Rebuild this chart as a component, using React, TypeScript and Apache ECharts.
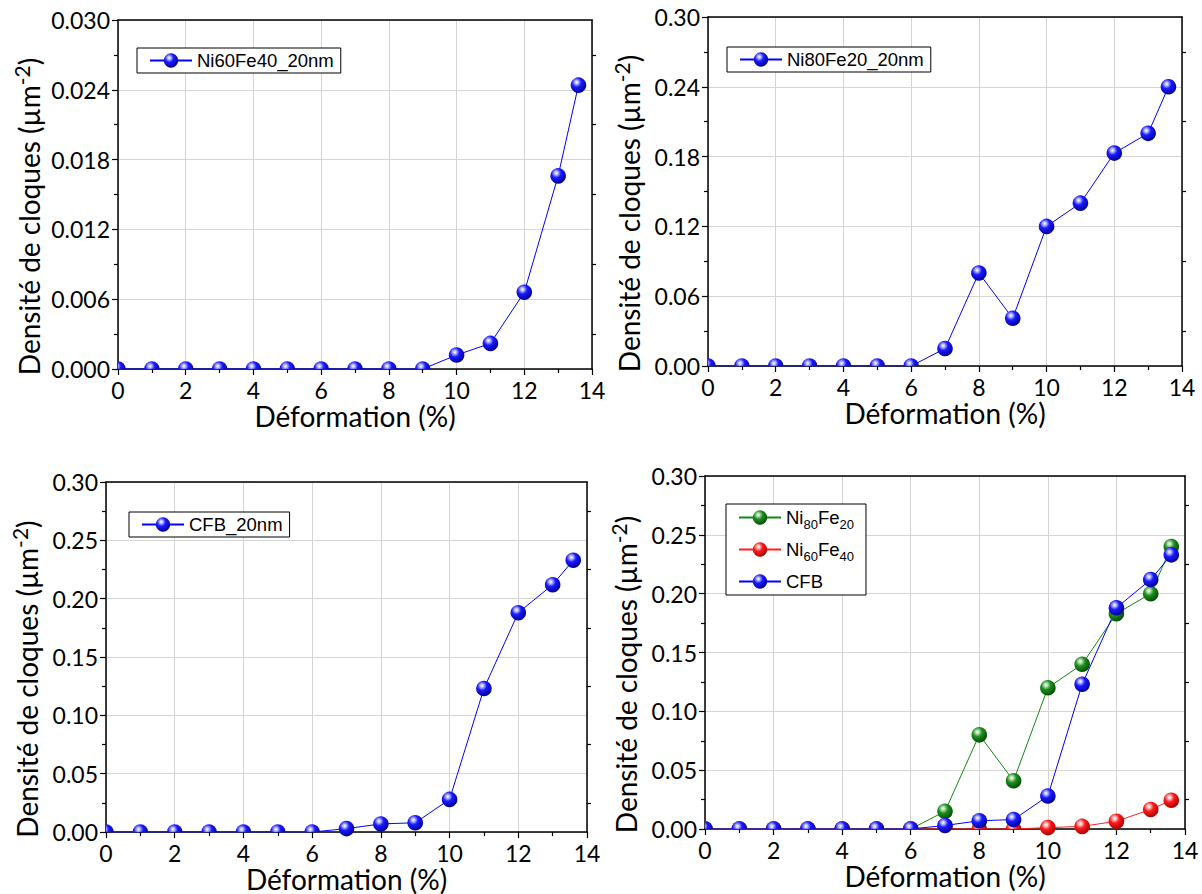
import React, { useEffect, useRef } from "react";
import * as echarts from "echarts";

// ---- data ----
const strain = [0, 1, 2, 3, 4, 5, 6, 7, 8, 9, 10, 11, 12, 13, 13.6];
const ni60fe40 = [0, 0, 0, 0, 0, 0, 0, 0, 0, 0, 0.0012, 0.0022, 0.0066, 0.0166, 0.0244];
const ni80fe20 = [0, 0, 0, 0, 0, 0, 0, 0.015, 0.08, 0.041, 0.12, 0.14, 0.183, 0.2, 0.24];
const cfb = [0, 0, 0, 0, 0, 0, 0, 0.003, 0.007, 0.008, 0.028, 0.123, 0.188, 0.212, 0.233];

const xTicksMax = 14;
const yMaxTop = [0.03, 0.3, 0.3, 0.3];
const yInterval = [0.006, 0.06, 0.05, 0.05];
const yDecimals = [3, 2, 2, 2];

const legendNames1 = ["Ni60Fe40_20nm"];
const legendNames2 = ["Ni80Fe20_20nm"];
const legendNames3 = ["CFB_20nm"];
const legendNames4 = ["Ni80Fe20", "Ni60Fe40", "CFB"];

const BLUE = { line: "#0000ff", hi: "#c8c8ff", mid: "#1a1aff", edge: "#00008c" };
const GREEN = { line: "#118811", hi: "#c0e8c0", mid: "#1f8f1f", edge: "#004800" };
const RED = { line: "#ff2020", hi: "#ffd0d0", mid: "#ff1a1a", edge: "#a00000" };

function stops(c: any) {
  return [
    { offset: 0, color: "#ffffff" },
    { offset: 0.13, color: c.hi },
    { offset: 0.42, color: c.mid },
    { offset: 1, color: c.edge },
  ];
}
function sphere(c: any) {
  return { type: "radial", x: 0.38, y: 0.32, r: 0.72, colorStops: stops(c) };
}

const grids = [
  { left: 118, top: 20, width: 474, height: 349 },
  { left: 708, top: 17, width: 474, height: 349 },
  { left: 106, top: 482, width: 481, height: 353 },
  { left: 705, top: 476, width: 480, height: 353 },
];
const yNameGap = [71, 61, 61, 61];
const R = 7.8;

export default function App() {
  const ref = useRef<HTMLDivElement>(null);
  useEffect(() => {
    const chart = echarts.init(ref.current!, null, { renderer: "svg" });
    const font = "Lato";
    const xAxis: any[] = [];
    const yAxis: any[] = [];
    grids.forEach((g, i) => {
      xAxis.push({
        type: "value",
        gridIndex: i,
        min: 0,
        max: xTicksMax,
        interval: 2,
        position: "bottom",
        name: "Déformation (%)",
        nameLocation: "middle",
        nameGap: 33,
        nameTextStyle: { fontFamily: font, fontSize: 28, lineHeight: 26, color: "#000" },
        axisLine: { show: true, onZero: false, lineStyle: { color: "#000", width: 1.5 } },
        axisTick: { show: true, inside: false, length: 6, lineStyle: { color: "#000", width: 1.2 } },
        minorTick: { show: true, splitNumber: 2, length: 4, lineStyle: { color: "#000", width: 1.2 } },
        splitLine: { show: true, lineStyle: { color: "#d4d4d4", width: 1 } },
        axisLabel: { fontFamily: font, fontSize: 23, lineHeight: 21, color: "#000", margin: 10 },
      });
      xAxis.push({
        type: "value",
        gridIndex: i,
        min: 0,
        max: xTicksMax,
        interval: 2,
        position: "top",
        axisLine: { show: true, onZero: false, lineStyle: { color: "#000", width: 1.5 } },
        axisTick: { show: false },
        axisLabel: { show: false },
        splitLine: { show: false },
      });
      yAxis.push({
        type: "value",
        gridIndex: i,
        min: 0,
        max: yMaxTop[i],
        interval: yInterval[i],
        position: "left",
        name: "Densité de cloques (µm{sup|-2})",
        nameLocation: "middle",
        nameRotate: 90,
        nameGap: yNameGap[i],
        nameTextStyle: {
          fontFamily: font,
          fontSize: 28,
          color: "#000",
          padding: [0, 44, 0, 0],
          rich: { sup: { fontFamily: font, fontSize: 21, color: "#000", padding: [0, 0, 15, 0] } },
        },
        axisLine: { show: true, onZero: false, lineStyle: { color: "#000", width: 1.5 } },
        axisTick: { show: true, inside: false, length: 6, lineStyle: { color: "#000", width: 1.2 } },
        minorTick: { show: true, splitNumber: 2, length: 4, lineStyle: { color: "#000", width: 1.2 } },
        splitLine: { show: true, lineStyle: { color: "#d4d4d4", width: 1 } },
        axisLabel: {
          fontFamily: font,
          fontSize: 23,
          color: "#000",
          margin: 8,
          formatter: (v: number) => v.toFixed(yDecimals[i]),
        },
      });
      yAxis.push({
        type: "value",
        gridIndex: i,
        min: 0,
        max: yMaxTop[i],
        interval: yInterval[i],
        position: "right",
        axisLine: { show: true, onZero: false, lineStyle: { color: "#000", width: 1.5 } },
        axisTick: { show: false },
        minorTick: { show: true, splitNumber: 2, length: 4, lineStyle: { color: "#000", width: 1.2 } },
        axisLabel: { show: false },
        splitLine: { show: false },
      });
    });

    const series: any[] = [];
    const addSeries = (gi: number, name: string, ys: number[], c: any, key: string) => {
      const data = strain.map((x, j) => [x, ys[j]]);
      series.push({
        type: "line",
        name,
        xAxisIndex: gi * 2,
        yAxisIndex: gi * 2,
        data,
        symbol: "circle",
        showSymbol: false,
        clip: true,
        z: 2,
        lineStyle: { color: c.line, width: 1 },
        itemStyle: { color: sphere(c) },
        silent: true,
      });
      series.push({
        type: "custom",
        name: "markers_" + key,
        xAxisIndex: gi * 2,
        yAxisIndex: gi * 2,
        coordinateSystem: "cartesian2d",
        z: 3,
        silent: true,
        data,
        renderItem: (params: any, api: any) => {
          const p = api.coord([api.value(0), api.value(1)]);
          const cs = params.coordSys;
          const cx = p[0];
          const cy = p[1];
          const fill = new echarts.graphic.RadialGradient(
            cx - 0.24 * R,
            cy - 0.36 * R,
            1.44 * R,
            stops(c),
            true
          );
          const onBottom = cy > cs.y + cs.height - 0.5;
          const onLeft = cx < cs.x + 0.5;
          if (!onBottom && !onLeft) {
            return { type: "circle", shape: { cx, cy, r: R }, style: { fill } };
          }
          let startAngle = Math.PI;
          let endAngle = 2 * Math.PI;
          if (onBottom && onLeft) {
            startAngle = 1.5 * Math.PI;
            endAngle = 2 * Math.PI;
          } else if (onLeft) {
            startAngle = -0.5 * Math.PI;
            endAngle = 0.5 * Math.PI;
          }
          return {
            type: "sector",
            shape: { cx, cy, r0: 0, r: R, startAngle, endAngle, clockwise: true },
            style: { fill },
          };
        },
      });
    };
    addSeries(0, legendNames1[0], ni60fe40, BLUE, "a");
    addSeries(1, legendNames2[0], ni80fe20, BLUE, "b");
    addSeries(2, legendNames3[0], cfb, BLUE, "c");
    addSeries(3, legendNames4[0], ni80fe20, GREEN, "d1");
    addSeries(3, legendNames4[1], ni60fe40, RED, "d2");
    addSeries(3, legendNames4[2], cfb, BLUE, "d3");

    const legendBase = {
      orient: "vertical",
      backgroundColor: "#fff",
      borderColor: "#000",
      borderWidth: 1,
      borderRadius: 0,
      itemWidth: 42,
      itemHeight: 18,
      selectedMode: false,
      textStyle: { fontFamily: "Liberation Sans", fontSize: 18.5, color: "#000" },
    };
    const legend = [
      { ...legendBase, left: 137, top: 48, padding: [3, 7, 3, 12], data: legendNames1 },
      { ...legendBase, left: 727, top: 47, padding: [3, 7, 3, 12], data: legendNames2 },
      { ...legendBase, left: 129, top: 512, padding: [3, 7, 3, 12], data: legendNames3 },
      {
        ...legendBase,
        left: 726,
        top: 504,
        padding: [4, 12, 4, 12],
        itemGap: 9,
        data: legendNames4,
        formatter: (n: string) => {
          if (n === "Ni80Fe20") return "Ni{sub|80}Fe{sub|20}";
          if (n === "Ni60Fe40") return "Ni{sub|60}Fe{sub|40}";
          return n;
        },
        textStyle: {
          fontFamily: "Liberation Sans",
          fontSize: 18.5,
          color: "#000",
          rich: {
            sub: { fontFamily: "Liberation Sans", fontSize: 13, color: "#000", padding: [14, 0, 0, 0] },
          },
        },
      },
    ];

    chart.setOption({
      animation: false,
      backgroundColor: "#fff",
      grid: grids.map((g) => ({ ...g, containLabel: false })),
      xAxis,
      yAxis,
      legend,
      series,
    });
    return () => chart.dispose();
  }, []);
  return (
    <div
      ref={ref}
      style={{ position: "absolute", left: 0, top: 0, width: 1202, height: 894 }}
    />
  );
}
